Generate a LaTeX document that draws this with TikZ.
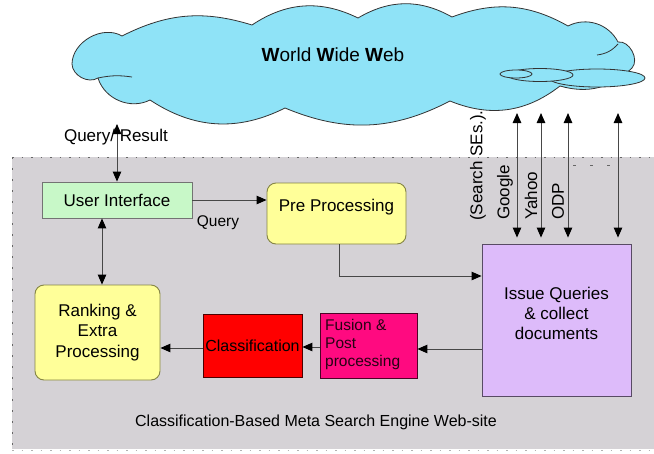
\documentclass[tikz,border=0pt]{standalone}
\usepackage{fontspec}
\setmainfont{Liberation Sans}
\usetikzlibrary{arrows.meta,calc}
\definecolor{bgray}{HTML}{D5D2D6}
\definecolor{cloudc}{HTML}{8FE3F7}
\definecolor{uigreen}{HTML}{C8F8C8}
\definecolor{lyellow}{HTML}{FFFF99}
\definecolor{lav}{HTML}{DDBBFA}
\definecolor{magen}{HTML}{FF0A80}
\definecolor{olive}{HTML}{858545}
\begin{document}
\begin{tikzpicture}[x=1pt,y=-1pt,
  big/.style={font=\fontsize{17}{20.5}\selectfont},
  mid/.style={font=\fontsize{16}{18}\selectfont},
  cloudline/.style={draw=black!80, line width=0.8pt},
  uibox/.style={draw=black!55, line width=0.9pt, fill=uigreen, minimum width=150pt, minimum height=36pt, inner sep=0pt, big},
  ybox/.style={draw=olive, line width=0.9pt, fill=lyellow, rounded corners=9pt, inner sep=0pt, align=center, big},
  cbox/.style={draw=black!70!red, line width=0.9pt, fill=red, minimum width=99pt, minimum height=63pt, inner sep=0pt, mid},
  fbox/.style={draw=black!70!magen, line width=0.9pt, fill=magen, minimum width=97pt, minimum height=65pt, inner sep=0pt},
  ibox/.style={draw=black!60!lav, line width=0.9pt, fill=lav, minimum width=149pt, minimum height=152pt, inner sep=0pt},
  tip/.tip={Triangle[length=10pt,width=8.5pt,color=black]},
  arr/.style={-tip, line width=1pt, draw=black!72},
  darr/.style={tip-tip, line width=1pt, draw=black!72},
  lbl/.style={inner sep=0pt, big}]
\useasboundingbox (0,0) rectangle (654,453);
\fill[white] (0,0) rectangle (654,453);
% site area
\fill[bgray] (12,157) rectangle (654,449);
\draw[black!60, line width=0.8pt, dash pattern=on 1.5pt off 8pt] (12,157) -- (654,157);
\draw[black!60, line width=0.8pt, dash pattern=on 2pt off 9pt] (12,157) -- (12,449);
\draw[black!30, line width=0.6pt, dash pattern=on 1.5pt off 8pt] (12,450) -- (654,450);
\draw[black!60, line width=0.8pt, dash pattern=on 3pt off 14pt] (573,165) -- (615,165);
% cloud
\draw[cloudline, fill=cloudc] (72,64) to[bend left=60] (122,36) to[bend left=22] (252,25)
  to[bend left=30] (358,18) to[bend left=30] (452,17) to[bend left=25] (568,26)
  to[bend left=45] (618,42) to[bend left=70] (632,68) to[bend left=30] (560,86)
  to[bend left=30] (450,101) to[bend left=25] (285,108) to[bend left=30] (150,100)
  to[bend left=50] (98,78) to[bend left=60] (72,64) -- cycle;
\draw[cloudline] (98,78) to[bend left=10] (132,77);
\draw[cloudline] (618,44) to[bend left=20] (597,55);
\draw[cloudline, fill=cloudc] (597,78) ellipse (48pt and 9pt);
\draw[cloudline, fill=cloudc] (540,75) ellipse (33pt and 6.5pt);
\draw[cloudline, fill=cloudc] (516,74) ellipse (16pt and 4pt);
\node[lbl, font=\fontsize{19}{22}\selectfont] (wwwt) at (333,55) {\textbf{W}orld \textbf{W}ide \textbf{W}eb};
% nodes
\node[uibox] (ui) at (117,200) {User Interface};
\node[ybox, minimum width=139pt, minimum height=61pt] (pre) at (336.5,213.5) {};
\node[lbl] (pret) at (336.5,207) {Pre Processing};
\node[ybox, minimum width=125pt, minimum height=95pt] (rank) at (97.5,332.5) {Ranking \&\\Extra\\Processing};
\node[cbox] (cls) at (252.5,345.5) {Classification};
\node[fbox] (fus) at (368.5,345.5) {};
\node[lbl, anchor=west, align=left, font=\fontsize{15.5}{18}\selectfont, text=black!85!magen] (fust) at (325,344) {Fusion \&\\Post\\processing};
\node[ibox] (iss) at (556.5,320) {};
\node[lbl, align=center, font=\fontsize{17}{20}\selectfont] (isst) at (556.5,313) {Issue Queries\\\& collect\\documents};
% connectors
\coordinate (qtop) at (117,124);
\coordinate (xa) at (102,0);
\coordinate (ya) at (0,349);
\coordinate (yb) at (0,347);
\coordinate (yc) at (0,348);
\draw[darr] (qtop) -- (ui.north);
\node[lbl] (qr) at (116,137) {Query/ Result};
\draw[arr] (ui.east) -- (pre.west |- ui.east);
\node[lbl, font=\fontsize{15.5}{18}\selectfont] (ql) at (218,223) {Query};
\draw[darr] (ui.south -| xa) -- (rank.north -| xa);
\draw[arr] ([xshift=2.5pt]pre.south) |- ($(iss.west)+(0,-44)$);
\draw[arr] (iss.west |- ya) -- (fus.east |- ya);
\draw[arr] (fus.west |- yb) -- (cls.east |- yb);
\draw[arr] (cls.west |- yc) -- (rank.east |- yc);
\foreach \n/\x in {a/517,b/541,c/568,d/618}{
  \coordinate (t\n) at (\x,113);
  \draw[darr, shorten >=6pt] (t\n) -- (iss.north -| t\n);
}
\node[lbl, rotate=90, anchor=west] (srch) at (478,221) {(Search SEs.).};
\node[lbl, rotate=90, anchor=west] (goog) at (505,220) {Google};
\node[lbl, rotate=90, anchor=west] (yah) at (531,220) {Yahoo};
\node[lbl, rotate=90, anchor=west] (odp) at (558,220) {ODP};
\node[lbl, font=\fontsize{16}{18}\selectfont] (cap) at (316,422) {Classification-Based Meta Search Engine Web-site};
\end{tikzpicture}
\end{document}
